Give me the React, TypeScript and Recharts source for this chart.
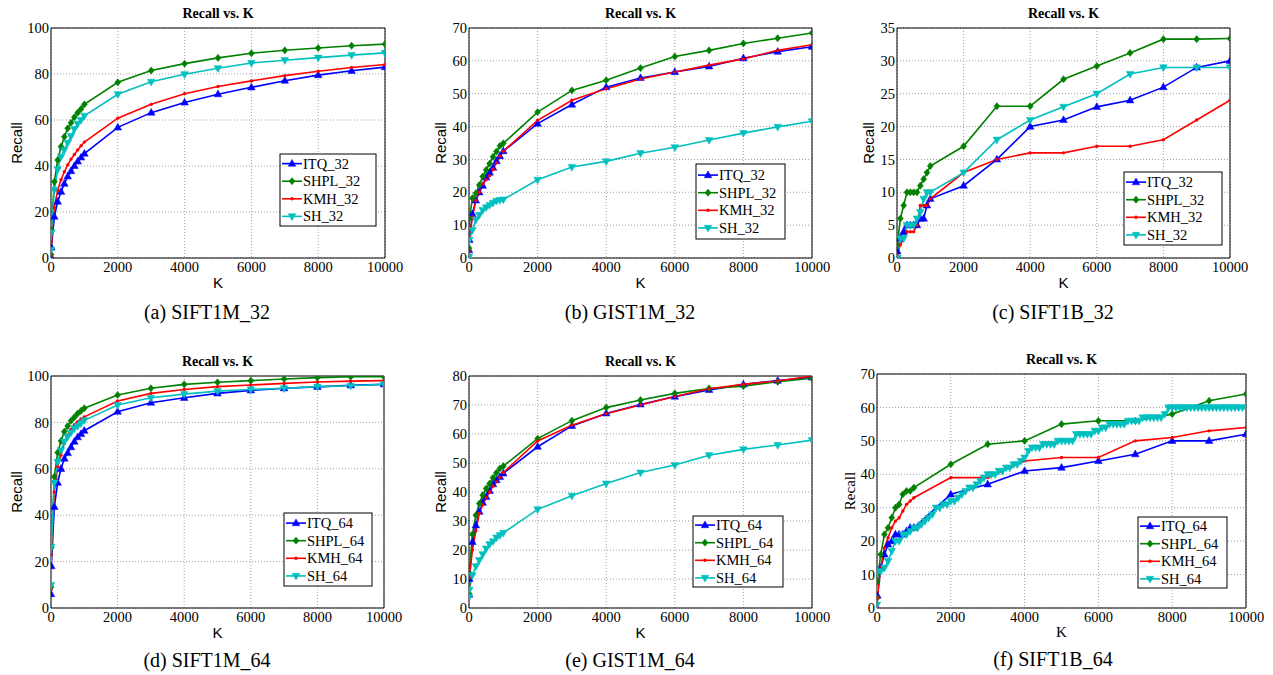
import React from 'react';
import { LineChart, Line, XAxis, YAxis, CartesianGrid, ReferenceArea } from 'recharts';

// K values used by most curves
const K = [1, 10, 100, 200, 300, 400, 500, 600, 700, 800, 900, 1000, 2000, 3000, 4000, 5000, 6000, 7000, 8000, 9000, 10000];

// SH_64 on SIFT1B is sampled every 100
const kDense = [
  1, 10, 100, 200, 300, 400, 500, 600, 700, 800, 900, 1000,
  1100, 1200, 1300, 1400, 1500, 1600, 1700, 1800, 1900, 2000,
  2100, 2200, 2300, 2400, 2500, 2600, 2700, 2800, 2900, 3000,
  3100, 3200, 3300, 3400, 3500, 3600, 3700, 3800, 3900, 4000,
  4100, 4200, 4300, 4400, 4500, 4600, 4700, 4800, 4900, 5000,
  5100, 5200, 5300, 5400, 5500, 5600, 5700, 5800, 5900, 6000,
  6100, 6200, 6300, 6400, 6500, 6600, 6700, 6800, 6900, 7000,
  7100, 7200, 7300, 7400, 7500, 7600, 7700, 7800, 7900, 8000,
  8100, 8200, 8300, 8400, 8500, 8600, 8700, 8800, 8900, 9000,
  9100, 9200, 9300, 9400, 9500, 9600, 9700, 9800, 9900, 10000,
];

const xTicks = [0, 2000, 4000, 6000, 8000, 10000];

// (a) SIFT1M_32
const itqA = [0.5, 4.6, 18, 24.5, 28.8, 32.3, 35.5, 37.8, 40, 42, 43.7, 45.4, 56.8, 63.2, 67.6, 71.2, 74.2, 77.1, 79.5, 81.4, 83];
const shplA = [1.5, 12.2, 33.2, 42.6, 48.4, 52.7, 56.4, 58.8, 61.2, 63.2, 64.8, 66.8, 76.4, 81.5, 84.5, 87, 89, 90.3, 91.3, 92.3, 93];
const kmhA = [1, 7, 22, 29.5, 34, 37.5, 40.5, 43, 45, 47, 48.8, 50.4, 60.8, 66.8, 71.4, 74.6, 77, 79.3, 81.2, 82.8, 84.1];
const shA = [3.5, 11, 29.6, 38.5, 44, 47, 50.1, 53, 56, 58.3, 60, 61.8, 71.2, 76.6, 79.9, 82.5, 84.8, 86, 87.1, 88.2, 89.2];

// (b) GIST1M_32
const itqB = [2.4, 5.5, 13.4, 17.5, 20, 22, 24.5, 26, 27.5, 29.5, 31, 32.5, 40.9, 46.7, 52, 54.8, 56.6, 58.3, 60.8, 62.8, 64.3];
const shplB = [3, 12, 18.2, 19.7, 22.2, 24.8, 26.8, 28.7, 30.8, 32.4, 34.1, 34.9, 44.4, 51, 54.1, 57.8, 61.3, 63.2, 65.3, 66.9, 68.5];
const kmhB = [2, 6.5, 12.5, 17.5, 20, 22.5, 23.8, 25, 27, 29, 31, 32.5, 41.9, 48, 51.5, 54.5, 56.6, 58.7, 60.6, 63.2, 64.9];
const shB = [0.4, 5.5, 8.5, 11.6, 13.1, 14.6, 15.4, 16.1, 16.8, 17.4, 17.6, 17.8, 23.8, 27.7, 29.4, 31.9, 33.7, 35.9, 38, 39.9, 41.6];

// (c) SIFT1B_32
const itqC = [0, 1, 3, 4, 5, 5, 5, 5, 6, 6, 8, 9, 11, 15, 20, 21, 23, 24, 26, 29, 30];
const shplC = [0, 2, 6, 8, 10, 10, 10, 10, 11, 12, 13, 14, 17, 23.1, 23.1, 27.2, 29.2, 31.2, 33.3, 33.3, 33.4];
const kmhC = [0, 0.5, 2, 3, 4, 4, 4, 5, 8, 8, 8, 9, 13, 15, 16, 16, 17, 17, 18, 21, 24];
const shC = [0, 0, 3, 3, 5, 5, 5, 6, 7, 9, 10, 10, 13, 18, 21, 23, 25, 28, 29, 29, 29];

// (d) SIFT1M_64
const itqD = [6, 18, 43.6, 54, 60, 64.4, 66.8, 69.3, 71.7, 73.6, 75, 76.4, 84.6, 88.5, 90.6, 92.5, 93.8, 94.7, 95.3, 96, 96.4];
const shplD = [9, 26, 56.6, 67, 72, 76, 78.4, 80.7, 82.2, 83.8, 85, 86.1, 91.8, 94.7, 96.4, 97.3, 98, 98.7, 99.3, 99.7, 99.7];
const kmhD = [8, 23, 50, 61, 66, 71, 74.5, 77, 79, 80.3, 81.5, 82.4, 89.2, 92.5, 94.2, 95.4, 96.1, 96.8, 97.4, 97.8, 98];
const shD = [9.9, 26.4, 54, 63, 68, 71.7, 73.8, 75.6, 77.4, 78.4, 79.6, 80.9, 87.5, 90.6, 92.2, 93.5, 94.2, 94.7, 95.4, 95.8, 96.4];

// (e) GIST1M_64
const itqE = [4.6, 10, 22.8, 28.5, 33.2, 36.3, 38.3, 40.4, 42.7, 44.1, 45.2, 46.4, 55.6, 62.8, 67.1, 70.2, 72.9, 75.2, 77.1, 78.4, 79.5];
const shplE = [5, 12, 25.4, 32, 36, 38.9, 41.2, 42.9, 44.9, 46.6, 48.1, 48.9, 58.4, 64.6, 69.1, 71.7, 74, 75.7, 76.5, 78, 79.2];
const kmhE = [8, 10.5, 20, 26.6, 32.6, 35.6, 38, 40, 42, 43.5, 45, 46.7, 57.6, 63, 67, 70, 72.9, 75.6, 77.1, 78.3, 80];
const shE = [3.8, 6.3, 11.3, 14.4, 16.5, 18.5, 20.5, 22, 23, 24.3, 25.1, 25.9, 34, 38.7, 42.9, 46.7, 49.3, 52.7, 54.7, 56.2, 57.9];

// (f) SIFT1B_64
const itqF = [0, 3.7, 12, 16, 19, 20, 22, 22, 22, 23, 24, 24, 34, 37, 41, 42, 44, 46, 50, 50, 52];
const shplF = [3, 8, 16, 22, 24, 27, 30, 31, 34, 35, 35, 36, 43, 49, 50, 55, 56, 56, 58, 62, 64];
const kmhF = [0, 3, 12, 18, 21, 24, 26, 27, 29, 31, 32, 33, 39, 39, 44, 45, 45, 50, 51, 53, 54];
const shF = [
  1, 11, 11, 12, 14, 17, 20, 20, 22, 22, 23, 24,
  24, 25, 26, 27, 28, 30, 30, 31, 31, 32,
  32, 33, 34, 35, 36, 36, 37, 38, 39, 40,
  40, 40, 41, 41, 42, 42, 43, 43, 44, 45,
  47, 48, 48, 48, 49, 49, 49, 49, 50, 50,
  50, 50, 50, 52, 52, 52, 52, 52, 53, 53,
  54, 54, 55, 55, 55, 55, 55, 56, 56, 56,
  56, 57, 57, 57, 57, 57, 57, 58, 60, 60,
  60, 60, 60, 60, 60, 60, 60, 60, 60, 60,
  60, 60, 60, 60, 60, 60, 60, 60, 60, 60,
];

const SERIF = "'Liberation Serif', 'Times New Roman', serif";
const SANS = "'Liberation Sans', Arial, sans-serif";

const BLUE = '#0000ff';
const GREEN = '#008000';
const RED = '#ff0000';
const CYAN = '#00bfbf';

type Series = { name: string; color: string; marker: string; ks: number[]; vals: number[] };
type Panel = {
  left: number; top: number; w: number; h: number;
  yMax: number; yTicks: number[];
  series: Series[];
  legend: { x: number; y: number; w: number; h: number };
  caption: string; capX: number; capY: number;
  labelFont: string; recallX: number;
};

const mk = (suffix: string, itq: number[], shpl: number[], kmh: number[], sh: number[], shK = K): Series[] => [
  { name: 'ITQ_' + suffix, color: BLUE, marker: 'up', ks: K, vals: itq },
  { name: 'SHPL_' + suffix, color: GREEN, marker: 'diamond', ks: K, vals: shpl },
  { name: 'KMH_' + suffix, color: RED, marker: 'dot', ks: K, vals: kmh },
  { name: 'SH_' + suffix, color: CYAN, marker: 'down', ks: shK, vals: sh },
];

const panels: Panel[] = [
  { left: 51, top: 28, w: 334, h: 230, yMax: 100, yTicks: [0, 20, 40, 60, 80, 100],
    series: mk('32', itqA, shplA, kmhA, shA), legend: { x: 280, y: 154, w: 96, h: 72 },
    caption: '(a) SIFT1M_32', capX: 207, capY: 312, labelFont: SANS, recallX: 16 },
  { left: 469, top: 28, w: 343, h: 230, yMax: 70, yTicks: [0, 10, 20, 30, 40, 50, 60, 70],
    series: mk('32', itqB, shplB, kmhB, shB), legend: { x: 696, y: 164, w: 89, h: 75 },
    caption: '(b) GIST1M_32', capX: 630, capY: 312, labelFont: SANS, recallX: 440 },
  { left: 897, top: 28, w: 333, h: 230, yMax: 35, yTicks: [0, 5, 10, 15, 20, 25, 30, 35],
    series: mk('32', itqC, shplC, kmhC, shC), legend: { x: 1124, y: 172, w: 98, h: 73 },
    caption: '(c) SIFT1B_32', capX: 1053, capY: 312, labelFont: SANS, recallX: 868 },
  { left: 51, top: 376, w: 333, h: 232, yMax: 100, yTicks: [0, 20, 40, 60, 80, 100],
    series: mk('64', itqD, shplD, kmhD, shD), legend: { x: 284, y: 513, w: 88, h: 73 },
    caption: '(d) SIFT1M_64', capX: 207, capY: 660, labelFont: SANS, recallX: 16 },
  { left: 469, top: 376, w: 343, h: 232, yMax: 80, yTicks: [0, 10, 20, 30, 40, 50, 60, 70, 80],
    series: mk('64', itqE, shplE, kmhE, shE), legend: { x: 693, y: 516, w: 90, h: 71 },
    caption: '(e) GIST1M_64', capX: 630, capY: 660, labelFont: SANS, recallX: 440 },
  { left: 877, top: 374, w: 369, h: 234, yMax: 70, yTicks: [0, 10, 20, 30, 40, 50, 60, 70],
    series: mk('64', itqF, shplF, kmhF, shF, kDense), legend: { x: 1138, y: 517, w: 89, h: 71 },
    caption: '(f) SIFT1B_64', capX: 1053, capY: 659, labelFont: SERIF, recallX: 850 },
];

const marker = (kind: string, color: string, cx: number, cy: number, key: string) => {
  if (cx == null || cy == null || isNaN(cx) || isNaN(cy)) return <g key={key} />;
  if (kind === 'up')
    return <path key={key} d={`M${cx},${cy - 4.2}L${cx + 3.8},${cy + 2.6}L${cx - 3.8},${cy + 2.6}Z`} fill={color} stroke={color} strokeWidth={0.5} />;
  if (kind === 'down')
    return <path key={key} d={`M${cx},${cy + 4.2}L${cx + 3.8},${cy - 2.6}L${cx - 3.8},${cy - 2.6}Z`} fill={color} stroke={color} strokeWidth={0.5} />;
  if (kind === 'diamond')
    return <path key={key} d={`M${cx},${cy - 3.6}L${cx + 3},${cy}L${cx},${cy + 3.6}L${cx - 3},${cy}Z`} fill={color} stroke={color} strokeWidth={0.5} />;
  return <circle key={key} cx={cx} cy={cy} r={1.7} fill={color} />;
};

const tickStyle = { fontFamily: SERIF, fontSize: 14.5, fill: '#000' };

const PanelChart = ({ p }: { p: Panel }) => (
  <div style={{ position: 'absolute', left: p.left - 50, top: p.top - 10 }}>
    <LineChart width={p.w + 80} height={p.h + 45} margin={{ top: 10, right: 30, bottom: 0, left: 0 }}>
      <CartesianGrid stroke="#a0a0a0" strokeDasharray="1 2" strokeWidth={1} />
      <XAxis
        type="number" dataKey="k" domain={[0, 10000]} ticks={xTicks} interval={0}
        allowDataOverflow tickLine={false} axisLine={false} tickSize={3} tickMargin={1} height={35}
        tick={tickStyle}
      />
      <YAxis
        type="number" domain={[0, p.yMax]} ticks={p.yTicks} interval={0}
        allowDataOverflow tickLine={false} axisLine={false} width={50} tickSize={2} tickMargin={0}
        tick={tickStyle}
      />
      <ReferenceArea x1={0} x2={10000} y1={0} y2={p.yMax} fill="none" stroke="#000" strokeWidth={1} />
      {p.series.map((s) => (
        <Line
          key={s.name}
          data={s.ks.map((k, i) => ({ k, v: s.vals[i] }))}
          dataKey="v"
          type="linear"
          stroke={s.color}
          strokeWidth={1.6}
          isAnimationActive={false}
          activeDot={false}
          dot={(d: any) => marker(s.marker, s.color, d.cx, d.cy, `${s.name}-${d.index}`)}
        />
      ))}
    </LineChart>
  </div>
);

const Overlay = () => (
  <svg width={1273} height={675} style={{ position: 'absolute', left: 0, top: 0, pointerEvents: 'none' }}>
    {panels.map((p, pi) => {
      const cx = p.left + p.w / 2;
      const cy = p.top + p.h / 2;
      const lg = p.legend;
      const row0 = lg.y + lg.h / 2 - 1.5 * 17.6;
      return (
        <g key={pi}>
          <text x={cx} y={p.top - 15} textAnchor="middle" dominantBaseline="central"
            style={{ fontFamily: SERIF }} fontWeight="bold" fontSize={14}>Recall vs. K</text>
          <text x={p.recallX} y={cy} textAnchor="middle" dominantBaseline="central"
            transform={`rotate(-90 ${p.recallX} ${cy})`} style={{ fontFamily: p.labelFont }} fontSize={15}>Recall</text>
          <text x={cx} y={p.top + p.h + 24} textAnchor="middle" dominantBaseline="central"
            style={{ fontFamily: p.labelFont }} fontSize={15}>K</text>
          <rect x={lg.x} y={lg.y} width={lg.w} height={lg.h} fill="#fff" stroke="#000" strokeWidth={1} />
          {p.series.map((s, i) => {
            const y = row0 + i * 17.6;
            return (
              <g key={s.name}>
                <line x1={lg.x + 2} x2={lg.x + 22} y1={y} y2={y} stroke={s.color} strokeWidth={1.6} />
                {marker(s.marker, s.color, lg.x + 12, y, 'm' + i)}
                <text x={lg.x + 23} y={y} dominantBaseline="central" style={{ fontFamily: SERIF }} fontSize={14.5}>{s.name}</text>
              </g>
            );
          })}
          <text x={p.capX} y={p.capY} textAnchor="middle" dominantBaseline="central"
            style={{ fontFamily: SERIF }} fontSize={20}>{p.caption}</text>
        </g>
      );
    })}
  </svg>
);

export default function App() {
  return (
    <div style={{ position: 'absolute', left: 0, top: 0, width: 1273, height: 675, background: '#fff' }}>
      {panels.map((p, i) => (
        <PanelChart key={i} p={p} />
      ))}
      <Overlay />
    </div>
  );
}
